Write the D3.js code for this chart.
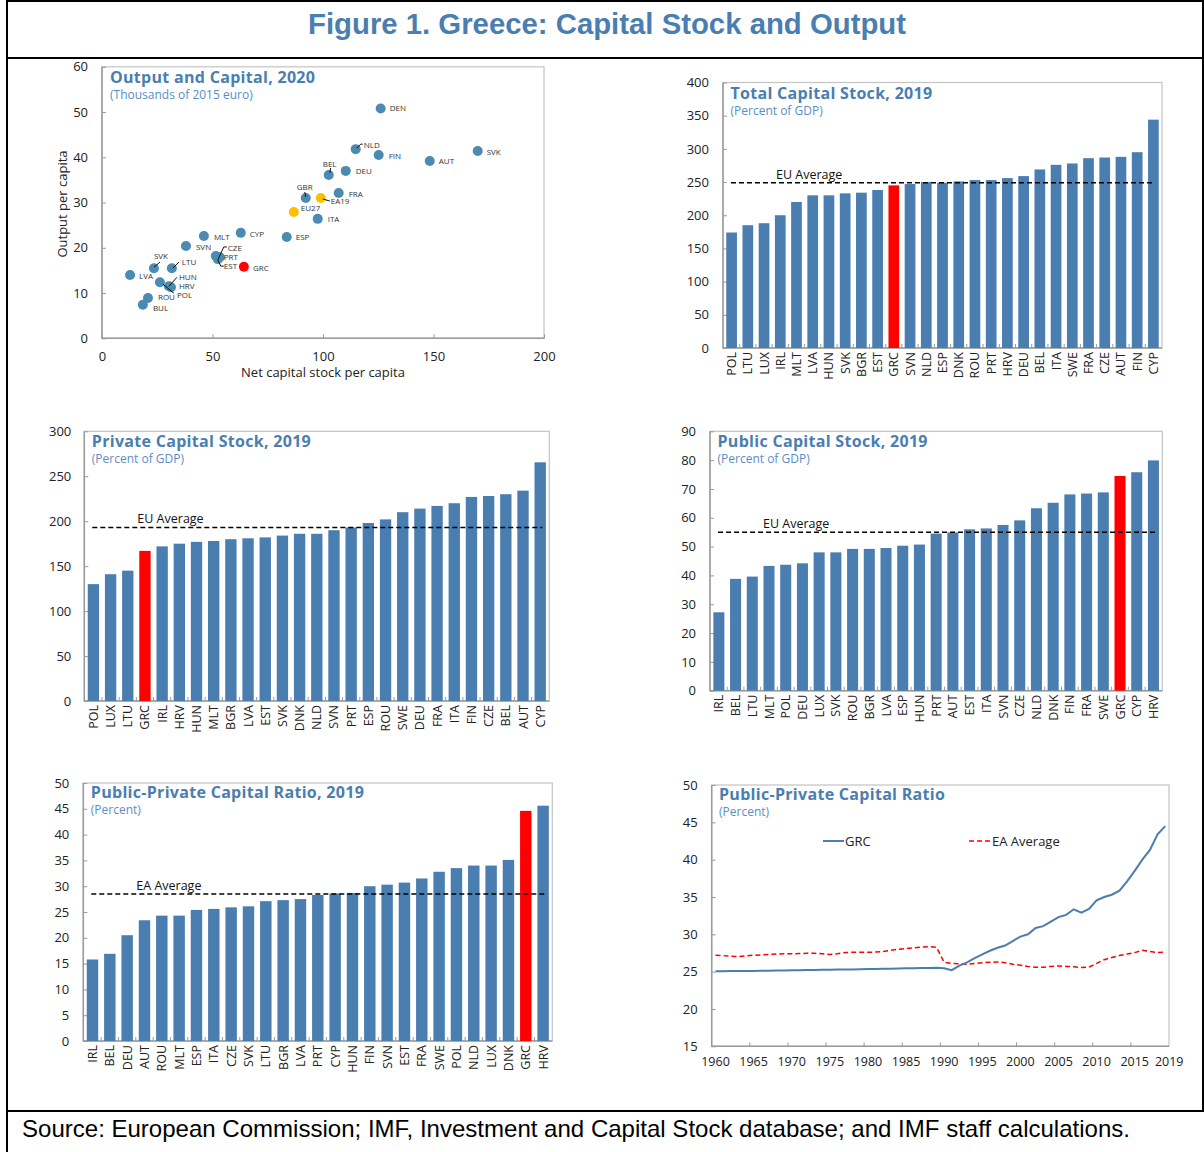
<!DOCTYPE html>
<html>
<head>
<meta charset="utf-8">
<script src="https://cdn.jsdelivr.net/npm/d3@7"></script>
<style>
  body { margin: 0; background: #fff; }
  svg text { font-family: "Open Sans", "Noto Sans", sans-serif; fill: #222; }
  .ptitle { font-family: "Open Sans", sans-serif; font-weight: 700; font-size: 16px; letter-spacing: 0.3px; fill: #4a7eb0; }
  .psub { font-size: 12px; fill: #5a8ec4; }
</style>
</head>
<body>
<svg id="fig" width="1204" height="1152"></svg>
<script>
// ---- Scatter: output and capital, 2020 (thousands of 2015 euro)
const scatterCountries = ['DEN','NLD','FIN','AUT','SVK','BEL','DEU','GBR','EA19','FRA','EU27','ITA','ESP','CYP','MLT','SVN',
  'CZE','PRT','EST','GRC','SVK','LTU','LVA','POL','HUN','HRV','ROU','BUL'];
const scatterCapital = [126.1,114.8,125.2,148.3,170.0,102.6,110.3,92.2,99.0,107.1,86.8,97.6,83.6,62.8,46.1,38.0,
  51.5,53.3,52.4,64.2,23.5,31.6,12.7,26.2,30.3,31.2,20.8,18.5];
const scatterOutput = [50.8,41.8,40.5,39.2,41.4,36.1,37.0,31.0,31.0,32.1,27.9,26.4,22.4,23.3,22.6,20.4,
  18.2,17.9,17.5,15.8,15.5,15.5,14.0,12.4,11.5,11.3,8.9,7.4];
const scatterKind = ['c','c','c','c','c','c','c','c','agg','c','agg','c','c','c','c','c',
  'c','c','c','grc','c','c','c','c','c','c','c','c'];

// ---- Total capital stock, 2019 (percent of GDP)
const totalCats = ['POL','LTU','LUX','IRL','MLT','LVA','HUN','SVK','BGR','EST','GRC','SVN','NLD','ESP','DNK','ROU','PRT',
  'HRV','DEU','BEL','ITA','SWE','FRA','CZE','AUT','FIN','CYP'];
const totalVals = [174,185,188,200,220,230,230,233,234,238,245,247,250,249,251,253,253,256,259,269,276,278,286,287,288,295,344];
const totalAvg = 249;

// ---- Private capital stock, 2019
const privateCats = ['POL','LUX','LTU','GRC','IRL','HRV','HUN','MLT','BGR','LVA','EST','SVK','DNK','NLD','SVN','PRT','ESP',
  'ROU','SWE','DEU','FRA','ITA','FIN','CZE','BEL','AUT','CYP'];
const privateVals = [130,141,145,167,172,175,177,178,180,181,182,184,186,186,190,193,198,202,210,214,217,220,227,228,230,234,265.5];
const privateAvg = 193;

// ---- Public capital stock, 2019
const publicCats = ['IRL','BEL','LTU','MLT','POL','DEU','LUX','SVK','ROU','BGR','LVA','ESP','HUN','PRT','AUT','EST','ITA',
  'SVN','CZE','NLD','DNK','FIN','FRA','SWE','GRC','CYP','HRV'];
const publicVals = [27.2,38.8,39.6,43.3,43.7,44.2,48.0,48.0,49.2,49.2,49.5,50.3,50.7,54.5,54.9,56.0,56.3,57.5,59.1,63.3,65.2,
  68.1,68.4,68.8,74.5,75.8,79.9];
const publicAvg = 55;

// ---- Public-private capital ratio, 2019 (percent)
const ratioCats = ['IRL','BEL','DEU','AUT','ROU','MLT','ESP','ITA','CZE','SVK','LTU','BGR','LVA','PRT','CYP','HUN','FIN',
  'SVN','EST','FRA','SWE','POL','NLD','LUX','DNK','GRC','HRV'];
const ratioVals = [15.8,16.9,20.5,23.4,24.3,24.3,25.4,25.6,25.9,26.1,27.1,27.3,27.5,28.3,28.6,28.7,30.0,30.3,30.7,31.5,32.8,
  33.5,34.0,34.0,35.1,44.6,45.6];
const ratioAvg = 28.5;

// ---- Public-private capital ratio over time (percent)
const years = d3.range(1960, 2020);
const grcRatio = [25.05,25.06,25.07,25.08,25.09,25.1,25.11,25.12,25.14,25.16,25.18,25.2,25.21,25.22,25.24,25.26,25.28,25.29,
  25.3,25.32,25.34,25.36,25.38,25.4,25.42,25.44,25.46,25.48,25.5,25.52,25.45,25.2,25.8,26.25,26.8,27.3,27.8,28.2,28.5,29.1,
  29.7,30.0,30.85,31.1,31.7,32.3,32.6,33.35,32.9,33.4,34.55,35.0,35.3,35.85,37.1,38.5,40.0,41.3,43.4,44.5];
const eaRatio = [27.2,27.15,27.05,27.0,27.1,27.2,27.25,27.3,27.35,27.4,27.4,27.42,27.45,27.45,27.4,27.3,27.4,27.55,27.6,27.6,
  27.6,27.62,27.7,27.85,28.0,28.1,28.2,28.3,28.35,28.25,26.25,26.1,26.05,26.0,26.1,26.2,26.25,26.3,26.2,26.0,
  25.85,25.7,25.6,25.6,25.7,25.75,25.7,25.65,25.55,25.6,26.1,26.6,26.9,27.15,27.35,27.55,27.85,27.7,27.55,27.6];
const xYearTicks = [1960,1965,1970,1975,1980,1985,1990,1995,2000,2005,2010,2015,2019];

// colours
const barBlue = '#4a7eb0';
const dotBlue = '#4b8ab2';
const red = '#ff0000';
const gold = '#ffc000';
const frameColor = '#c4c4c4';
const axisColor = '#9a9a9a';

const svg = d3.select('#fig');

// ---- outer figure frame, title and source
const frame = svg.append('g').attr('stroke', '#000').attr('stroke-width', 2);
frame.append('line').attr('x1', 7).attr('x2', 1204).attr('y1', 1).attr('y2', 1);
frame.append('line').attr('x1', 7).attr('x2', 1204).attr('y1', 58).attr('y2', 58);
frame.append('line').attr('x1', 7).attr('x2', 1204).attr('y1', 1111).attr('y2', 1111);
frame.append('line').attr('x1', 7).attr('x2', 7).attr('y1', 0).attr('y2', 1152);
frame.append('line').attr('x1', 1203).attr('x2', 1203).attr('y1', 0).attr('y2', 1111);

svg.append('text')
  .attr('x', 308).attr('y', 34)
  .attr('textLength', 598).attr('lengthAdjust', 'spacingAndGlyphs')
  .style('font-family', '"Liberation Sans Narrow", "Arial Narrow", "Liberation Sans", sans-serif')
  .style('font-weight', 700).style('font-size', '29px').style('fill', '#4a7eb0')
  .text('Figure 1. Greece: Capital Stock and Output');

svg.append('text')
  .attr('x', 22).attr('y', 1137)
  .attr('textLength', 1108).attr('lengthAdjust', 'spacingAndGlyphs')
  .style('font-family', '"Liberation Sans Narrow", "Arial Narrow", "Liberation Sans", sans-serif')
  .style('font-size', '24px').style('fill', '#000')
  .text('Source: European Commission; IMF, Investment and Capital Stock database; and IMF staff calculations.');

// small helper for titles
function panelTitle(x, y, title, sub) {
  svg.append('text').attr('class', 'ptitle').attr('x', x).attr('y', y).text(title);
  svg.append('text').attr('class', 'psub').attr('x', x).attr('y', y + 16).text(sub);
}

// style an axis group
function styleAxis(g, size) {
  g.select('.domain').remove();
  g.selectAll('.tick line').attr('stroke', axisColor);
  g.selectAll('.tick text').style('font-size', size || '13px').style('fill', '#222');
}

// draw panel box (light frame + darker left/bottom axis)
function drawBox(left, right, top, bottom) {
  svg.append('rect')
    .attr('x', left).attr('y', top).attr('width', right - left).attr('height', bottom - top)
    .attr('fill', 'none').attr('stroke', frameColor).attr('stroke-width', 1.2);
  svg.append('path')
    .attr('d', `M${left},${top}V${bottom}H${right}`)
    .attr('fill', 'none').attr('stroke', axisColor).attr('stroke-width', 1.5);
}

// ---- Bar panel
function barPanel(o) {
  const x = d3.scaleBand().domain(o.cats).range([o.left, o.right]).paddingInner(0.34).paddingOuter(0.2);
  const y = d3.scaleLinear().domain([0, o.max]).range([o.bottom, o.top]);

  drawBox(o.left, o.right, o.top, o.bottom);

  // y axis
  const ya = svg.append('g')
    .attr('transform', `translate(${o.left},0)`)
    .call(d3.axisLeft(y).tickValues(d3.range(0, o.max + 0.001, o.step)).tickSize(-4).tickSizeOuter(0).tickPadding(o.gap));
  styleAxis(ya);

  // bars
  svg.append('g')
    .selectAll('rect')
    .data(o.cats)
    .join('rect')
    .attr('x', (d) => x(d))
    .attr('y', (d, i) => y(o.vals[i]))
    .attr('width', x.bandwidth())
    .attr('height', (d, i) => y(0) - y(o.vals[i]))
    .attr('fill', (d) => (d === 'GRC' ? red : barBlue));

  // small ticks between bars
  const step = x.step();
  svg.append('g')
    .selectAll('line')
    .data(o.cats.slice(1))
    .join('line')
    .attr('x1', (d) => x(d) - step * 0.17).attr('x2', (d) => x(d) - step * 0.17)
    .attr('y1', o.bottom).attr('y2', o.bottom - 4)
    .attr('stroke', axisColor);

  // x labels
  const xa = svg.append('g')
    .attr('transform', `translate(0,${o.bottom})`)
    .call(d3.axisBottom(x).tickSize(0).tickSizeOuter(0));
  styleAxis(xa, '12.5px');
  xa.selectAll('.tick text')
    .attr('transform', 'rotate(-90)')
    .attr('x', -4).attr('y', 0).attr('dy', '0.36em')
    .style('text-anchor', 'end');

  // average line
  svg.append('line')
    .attr('x1', o.left + 8).attr('x2', o.right - 7)
    .attr('y1', y(o.avg)).attr('y2', y(o.avg))
    .attr('stroke', '#000').attr('stroke-width', 1.5).attr('stroke-dasharray', '5,3');
  svg.append('text')
    .attr('x', o.left + 53).attr('y', y(o.avg) - 4)
    .style('font-size', '12.5px').style('fill', '#111')
    .text(o.avgLabel);

  panelTitle(o.left + 7.5, o.titleY, o.title, o.sub);
}

// ---- Scatter panel
(function scatter() {
  const left = 102, right = 544, top = 66.8, bottom = 338.3;
  const x = d3.scaleLinear().domain([0, 200]).range([left, right]);
  const y = d3.scaleLinear().domain([0, 60]).range([bottom, top]);

  drawBox(left, right, top, bottom);

  const ya = svg.append('g').attr('transform', `translate(${left},0)`)
    .call(d3.axisLeft(y).tickValues(d3.range(0, 61, 10)).tickSize(-4).tickSizeOuter(0).tickPadding(14));
  styleAxis(ya);
  const xa = svg.append('g').attr('transform', `translate(0,${bottom})`)
    .call(d3.axisBottom(x).tickValues(d3.range(0, 201, 50)).tickSize(-4).tickSizeOuter(0).tickPadding(13));
  styleAxis(xa);

  svg.append('text').attr('x', 323).attr('y', 377).attr('text-anchor', 'middle')
    .style('font-size', '13px').text('Net capital stock per capita');
  svg.append('text').attr('transform', 'translate(67,204) rotate(-90)').attr('text-anchor', 'middle')
    .style('font-size', '13px').text('Output per capita');

  // label placement relative to each dot: text offset, optional leader path
  const place = [
    [9, 3], [8, -1, 'M1,-1L5,-5H7'], [10, 4], [9, 3], [9, 4], [-6, -8, 'M1,-2L2,-7'], [10, 3], [-9, -8, 'M0,-1L-1,-6'],
    [10, 6, 'M2,1L9,3'], [10, 4], [7, -1], [10, 3], [9, 3], [9, 4], [10, 4], [10, 4],
    [12, -5, 'M2,4L8,-9H11'], [4, 3], [6, 10, 'M0,1L3,7H6'], [9, 4], [0, -9, 'M0,-1L6,-6'], [10, -3, 'M1,0L7,-6'], [9, 4],
    [17, 16, 'M3,2L14,11'], [10, -6, 'M0,0L8,-9'], [8, 2], [10, 2], [10, 6]
  ];

  const pts = scatterCountries.map((c, i) => ({ c, x: scatterCapital[i], y: scatterOutput[i], k: scatterKind[i], p: place[i] }));

  svg.append('g').selectAll('circle')
    .data(pts)
    .join('circle')
    .attr('cx', (d) => x(d.x)).attr('cy', (d) => y(d.y)).attr('r', 5)
    .attr('fill', (d) => (d.k === 'grc' ? red : d.k === 'agg' ? gold : dotBlue));

  svg.append('g').selectAll('path')
    .data(pts.filter((d) => d.p[2]))
    .join('path')
    .attr('transform', (d) => `translate(${x(d.x)},${y(d.y)})`)
    .attr('d', (d) => d.p[2])
    .attr('fill', 'none').attr('stroke', '#111').attr('stroke-width', 1);

  svg.append('g').selectAll('text')
    .data(pts)
    .join('text')
    .attr('x', (d) => x(d.x) + d.p[0]).attr('y', (d) => y(d.y) + d.p[1])
    .style('font-size', '8px').style('fill', '#333')
    .text((d) => d.c);

  panelTitle(110, 82.5, 'Output and Capital, 2020', '(Thousands of 2015 euro)');
})();

barPanel({ cats: totalCats, vals: totalVals, avg: totalAvg, avgLabel: 'EU Average', max: 400, step: 50,
  left: 723, right: 1162, top: 82.5, bottom: 348, gap: 14, titleY: 98.5,
  title: 'Total Capital Stock, 2019', sub: '(Percent of GDP)' });

barPanel({ cats: privateCats, vals: privateVals, avg: privateAvg, avgLabel: 'EU Average', max: 300, step: 50,
  left: 84.3, right: 549.3, top: 431.3, bottom: 701, gap: 13, titleY: 447,
  title: 'Private Capital Stock, 2019', sub: '(Percent of GDP)' });

barPanel({ cats: publicCats, vals: publicVals, avg: publicAvg, avgLabel: 'EU Average', max: 90, step: 10,
  left: 710, right: 1162.3, top: 431.3, bottom: 690.7, gap: 14, titleY: 446.5,
  title: 'Public Capital Stock, 2019', sub: '(Percent of GDP)' });

barPanel({ cats: ratioCats, vals: ratioVals, avg: ratioAvg, avgLabel: 'EA Average', max: 50, step: 5,
  left: 83.3, right: 552.3, top: 783, bottom: 1041, gap: 14, titleY: 797.5,
  title: 'Public-Private Capital Ratio, 2019', sub: '(Percent)' });

// ---- Line panel
(function linePanel() {
  const left = 711.7, right = 1169, top = 785, bottom = 1046.3;
  const x = d3.scaleBand().domain(years).range([left, right]);
  const y = d3.scaleLinear().domain([15, 50]).range([bottom, top]);
  const cx = (yr) => x(yr) + x.bandwidth() / 2;

  drawBox(left, right, top, bottom);

  const ya = svg.append('g').attr('transform', `translate(${left},0)`)
    .call(d3.axisLeft(y).tickValues(d3.range(15, 51, 5)).tickSize(-4).tickSizeOuter(0).tickPadding(14));
  styleAxis(ya);

  // year ticks on category boundaries
  svg.append('g').selectAll('line')
    .data(xYearTicks.filter((d) => d % 5 === 0 && d > 1960))
    .join('line')
    .attr('x1', (d) => x(d)).attr('x2', (d) => x(d))
    .attr('y1', bottom).attr('y2', bottom - 4)
    .attr('stroke', axisColor);

  svg.append('g').selectAll('text')
    .data(xYearTicks)
    .join('text')
    .attr('x', (d) => cx(d) + (d === 2019 ? 4 : 0)).attr('y', bottom + 20)
    .attr('text-anchor', 'middle')
    .style('font-size', '12.5px')
    .text((d) => d);

  const line = (vals) => d3.line().x((d, i) => cx(years[i])).y((d) => y(d))(vals);

  svg.append('path').attr('d', line(eaRatio))
    .attr('fill', 'none').attr('stroke', red).attr('stroke-width', 1.5).attr('stroke-dasharray', '5,3');
  svg.append('path').attr('d', line(grcRatio))
    .attr('fill', 'none').attr('stroke', barBlue).attr('stroke-width', 2);

  // legend
  svg.append('line').attr('x1', 823).attr('x2', 844).attr('y1', 841).attr('y2', 841)
    .attr('stroke', barBlue).attr('stroke-width', 2);
  svg.append('text').attr('x', 845).attr('y', 845.5).style('font-size', '13px').text('GRC');
  svg.append('line').attr('x1', 969).attr('x2', 991).attr('y1', 841).attr('y2', 841)
    .attr('stroke', red).attr('stroke-width', 1.5).attr('stroke-dasharray', '5,3');
  svg.append('text').attr('x', 992).attr('y', 845.5).style('font-size', '13px').text('EA Average');

  panelTitle(719, 800, 'Public-Private Capital Ratio', '(Percent)');
})();
</script>
</body>
</html>
